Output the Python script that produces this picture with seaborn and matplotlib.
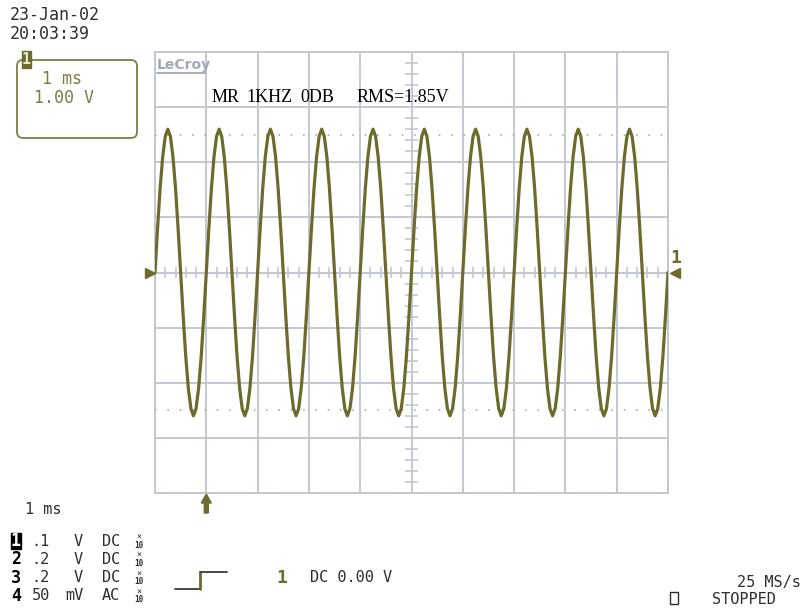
import numpy as np
import pandas as pd
import matplotlib
matplotlib.use('Agg')
import matplotlib.pyplot as plt
import seaborn as sns
from matplotlib.patches import FancyBboxPatch, Rectangle, Polygon

# channel 1 trace, one 1 ms cycle (V), 20 samples per cycle
cycle_v = [0.0, 0.80, 1.53, 2.10, 2.47, 2.60, 2.47, 2.10, 1.53, 0.80,
           0.0, -0.80, -1.53, -2.10, -2.47, -2.60, -2.47, -2.10, -1.53, -0.80]
n_cycles = 10          # ten identical cycles across the screen
t_start = -1.0         # ms, trigger point at 0
sample_dt = 0.05       # ms
peak_marks = [2.5, -2.5]   # dotted level markers (V)

date_lines = ['23-Jan-02', '20:03:39']
box_lines = ['1 ms', '1.00 V']
trace_text = ['MR', '1KHZ', '0DB', 'RMS=1.85V']
chan_names = ['1', '2', '3', '4']
chan_scale = ['.1', '.2', '.2', '50']
chan_unit = ['V', 'V', 'V', 'mV']
chan_coupling = ['DC', 'DC', 'DC', 'AC']
timebase = '1 ms'
trig_text = ['1', 'DC 0.00 V']
rate_text = '25 MS/s'
state_text = 'STOPPED'

volts = cycle_v * n_cycles + [cycle_v[0]]
df = pd.DataFrame({'t': t_start + sample_dt * np.arange(len(volts)), 'v': volts})

olive = '#6b6b2b'
olive_lt = '#7d7d45'
grid_c = '#c3c7cf'
txt_c = '#2e2e2e'
mono = 'DejaVu Sans Mono'

sns.set_style('white')
W, H = 808, 615
fig = plt.figure(figsize=(W / 100, H / 100), dpi=100)

# overlay in pixel units for the screen annotations
ov = fig.add_axes([0, 0, 1, 1], zorder=0)
ov.set_xlim(0, W)
ov.set_ylim(H, 0)
ov.axis('off')
px = ov.transData

# graticule
ax = fig.add_axes([155 / W, (H - 493) / H, 513 / W, 441 / H], zorder=2)
ax.set_facecolor('white')
sns.lineplot(data=df, x='t', y='v', color=olive, linewidth=2.3, ax=ax, zorder=5)
ax.set_xlim(-1, 9)
ax.set_ylim(-4, 4)
ax.set_xticks(np.arange(-1, 10, 1))
ax.set_yticks(np.arange(-4, 5, 1))
ax.grid(True, color=grid_c, linewidth=1.4)
ax.tick_params(length=0, labelbottom=False, labelleft=False)
ax.set_xlabel('')
ax.set_ylabel('')
for s in ax.spines.values():
    s.set_color(grid_c)
    s.set_linewidth(1.4)

# minor ticks along the centre lines
tx = np.arange(-1, 9.01, 0.2)
tx = tx[np.abs(tx - np.round(tx)) > 0.01]
ax.vlines(tx, -0.1, 0.1, color=grid_c, linewidth=1.2, zorder=1)
ty = np.arange(-4, 4.01, 0.2)
ty = ty[np.abs(ty - np.round(ty)) > 0.01]
ax.hlines(ty, 3.88, 4.12, color=grid_c, linewidth=1.2, zorder=1)

for lv in peak_marks:
    ax.axhline(lv, color='#a8acb4', linewidth=1.2, linestyle=(0, (1, 6.4)), zorder=1)

# ground markers
ax.plot([-1.09], [0], marker='>', ms=7, color=olive, clip_on=False, zorder=6)
ax.plot([9.13], [0], marker='<', ms=7, color=olive, clip_on=False, zorder=6)
ax.text(9.15, 0.27, chan_names[0], color=olive, fontsize=13, fontweight='bold',
        family=mono, ha='center', va='center', clip_on=False)

# LeCroy logo and trace label
ax.text(157, 65, 'LeCroy', transform=px, color='#a2a8b6', fontsize=10, fontweight='bold',
        family='DejaVu Sans', ha='left', va='center')
ax.plot([157, 205], [73, 73], transform=px, color='#a2a8b6', lw=1.3)
for x, s in zip([211.7, 246.7, 300, 356.7], trace_text):
    ax.text(x, 97, s, transform=px, fontsize=13, family='Liberation Serif', color='black',
            ha='left', va='center', zorder=10)

# trigger arrow below the graticule at t = 0
xa = 155 + (0 - t_start) * 51.3
ov.add_patch(Polygon([[xa, 494], [xa - 5, 503], [xa - 2, 503], [xa - 2, 513],
                      [xa + 2, 513], [xa + 2, 503], [xa + 5, 503]], color=olive))

# date / time
for i, s in enumerate(date_lines):
    ov.text(10, 15 + 19 * i, s, fontsize=12, family=mono, color=txt_c, va='center')

# channel box
ov.add_patch(FancyBboxPatch((17, 60), 120, 78, boxstyle='round,pad=0,rounding_size=6',
                            fill=False, edgecolor=olive_lt, linewidth=1.3))
ov.add_patch(Rectangle((21.5, 51), 9, 17, color=olive))
ov.text(26, 59.5, chan_names[0], fontsize=11, fontweight='bold', family=mono,
        color='#e8e8d0', ha='center', va='center')
ov.text(62, 79, box_lines[0], fontsize=12, family=mono, color=olive_lt, ha='center', va='center')
ov.text(64, 98, box_lines[1], fontsize=12, family=mono, color=olive_lt, ha='center', va='center')

# channel settings at bottom left
ov.text(25, 509, timebase, fontsize=11, family=mono, color=txt_c, va='center')
row_y = [541, 559, 578, 596]
for i, y in enumerate(row_y):
    if i == 0:
        ov.add_patch(Rectangle((11, y - 8), 10, 16, color='black'))
        ov.text(16, y, chan_names[i], fontsize=12, fontweight='bold', family=mono,
                color='white', ha='center', va='center')
    else:
        ov.text(16, y, chan_names[i], fontsize=12, fontweight='bold', family=mono,
                color='black', ha='center', va='center')
    ov.text(50, y, chan_scale[i], fontsize=11, family=mono, color=txt_c, ha='right', va='center')
    ov.text(83, y, chan_unit[i], fontsize=11, family=mono, color=txt_c, ha='right', va='center')
    ov.text(102, y, chan_coupling[i], fontsize=11, family=mono, color=txt_c, ha='left', va='center')
    ov.text(139, y - 4, '\u00d7', fontsize=6, family=mono, color=txt_c, ha='center', va='center')
    ov.text(139, y + 4, '10', fontsize=5.5, fontweight='bold', family=mono, color=txt_c,
            ha='center', va='center')

# trigger step symbol and trigger settings
ov.plot([175, 200], [589, 589], color='#3a3a3a', lw=1.3)
ov.plot([200, 200], [589, 572], color=olive, lw=2)
ov.plot([200, 227], [572, 572], color='#3a3a3a', lw=1.3)
ov.text(282, 578, trig_text[0], fontsize=13, fontweight='bold', family=mono, color=olive,
        ha='center', va='center')
ov.text(310, 578, trig_text[1], fontsize=11, family=mono, color=txt_c, va='center')

ov.text(801, 583, rate_text, fontsize=11, family=mono, color=txt_c, ha='right', va='center')
ov.add_patch(Rectangle((670, 592), 8, 12, fill=False, edgecolor=txt_c, lw=1))
ov.text(712, 599, state_text, fontsize=11, family=mono, color=txt_c, va='center')

fig.savefig('out.png', dpi=100, facecolor='white')
